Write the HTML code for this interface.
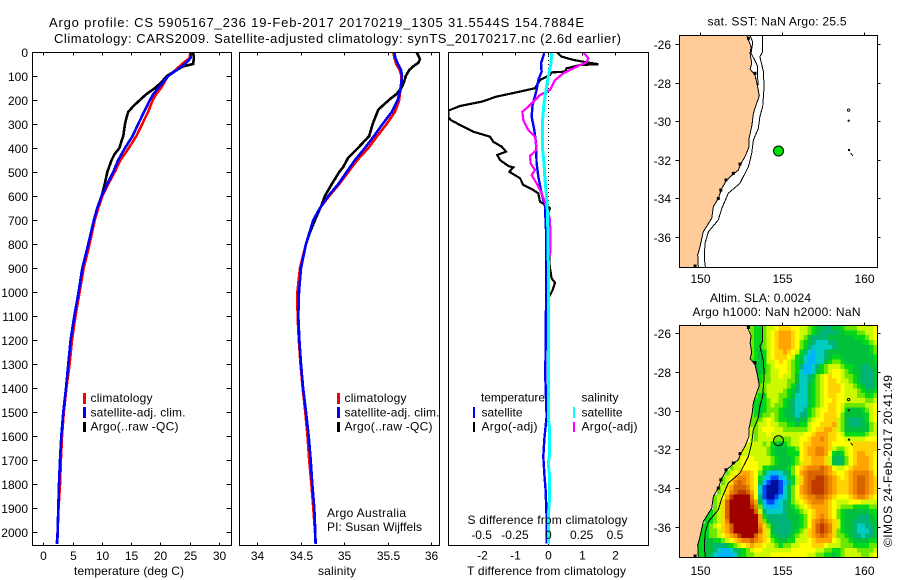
<!DOCTYPE html>
<html>
<head>
<meta charset="utf-8">
<title>Argo profile</title>
<style>
html,body{margin:0;padding:0;background:#fff;}
svg{display:block;}
text{font-family:"Liberation Sans",sans-serif;font-size:12px;fill:#000;}
.t13{font-size:13px;}
</style>
</head>
<body>
<svg id="chart" xmlns="http://www.w3.org/2000/svg" width="900" height="580" viewBox="0 0 900 580">
<defs>
<clipPath id="clip-p1"><rect x="32.5" y="52" width="199" height="494"/></clipPath>
<clipPath id="clip-p2"><rect x="239.5" y="52" width="200" height="494"/></clipPath>
<clipPath id="clip-p3"><rect x="448.5" y="52" width="200" height="494"/></clipPath>
<clipPath id="clip-m1"><rect x="679.5" y="35.5" width="198" height="232"/></clipPath>
<clipPath id="clip-m2"><rect x="679.5" y="325.5" width="198" height="232"/></clipPath>
</defs>
<text class="t13" x="49" y="27" textLength="535" lengthAdjust="spacing">Argo profile: CS 5905167_236 19-Feb-2017 20170219_1305 31.5544S 154.7884E</text>
<text class="t13" x="54" y="43" textLength="567" lengthAdjust="spacing">Climatology: CARS2009. Satellite-adjusted climatology: synTS_20170217.nc (2.6d earlier)</text>
<g id="p1" clip-path="url(#clip-p1)"></g>
<g id="p2" clip-path="url(#clip-p2)"></g>
<g id="p3" clip-path="url(#clip-p3)"></g>
<g id="m1" clip-path="url(#clip-m1)"></g>
<g id="m2" clip-path="url(#clip-m2)"></g>
<g id="axes"></g>

<g>
<rect x="83" y="393" width="3" height="11" fill="#f00"/>
<rect x="83" y="407" width="3" height="11" fill="#00f"/>
<rect x="83" y="422" width="3" height="10" fill="#000"/>
<text x="90.5" y="402" textLength="62">climatology</text>
<text x="90.5" y="416.5" textLength="95">satellite-adj. clim.</text>
<text x="90.5" y="430.5" textLength="88">Argo(..raw -QC)</text>
</g>
<g>
<rect x="337" y="393" width="3" height="11" fill="#f00"/>
<rect x="337" y="407" width="3" height="11" fill="#00f"/>
<rect x="337" y="422" width="3" height="10" fill="#000"/>
<text x="344.5" y="402" textLength="62">climatology</text>
<text x="344.5" y="416.5" textLength="95">satellite-adj. clim.</text>
<text x="344.5" y="430.5" textLength="88">Argo(..raw -QC)</text>
<text x="327" y="517" textLength="79">Argo Australia</text>
<text x="327" y="531" textLength="95">PI: Susan Wijffels</text>
</g>
<g>
<text x="481" y="401.5" textLength="64">temperature</text>
<text x="481.5" y="416.5" textLength="41">satellite</text>
<text x="481.5" y="430.5" textLength="56">Argo(-adj)</text>
<text x="581.5" y="401.5" textLength="37">salinity</text>
<text x="581.5" y="416.5" textLength="41">satellite</text>
<text x="581.5" y="430.5" textLength="56">Argo(-adj)</text>
<rect x="473" y="407" width="2" height="11" fill="#00f"/>
<rect x="473" y="422" width="2" height="10" fill="#000"/>
<rect x="573" y="407" width="2" height="11" fill="#0ff"/>
<rect x="573" y="422" width="2" height="10" fill="#f0f"/>
</g>

<text x="74" y="575" textLength="110">temperature (deg C)</text>
<text x="318" y="575" textLength="38">salinity</text>
<text x="467" y="575" textLength="159">T difference from climatology</text>
<text x="467.5" y="524" textLength="160">S difference from climatology</text>
<text x="707.5" y="25.5" textLength="139">sat. SST: NaN Argo: 25.5</text>
<text x="710" y="302" textLength="101">Altim. SLA: 0.0024</text>
<text x="692.5" y="316" textLength="168">Argo h1000: NaN h2000: NaN</text>
<text transform="translate(892 547) rotate(-90)" textLength="172">©IMOS 24-Feb-2017 20:41:49</text>
</svg>

<script>
// ---- profile data ----
const depths = [0,25,50,75,100,125,150,175,200,250,300,350,400,450,500,550,600,650,700,800,900,1000,1100,1200,1300,1400,1500,1600,1700,1800,1900,2000,2050];
const tempClim = [25.1,25,23.7,22.6,21.3,20.7,20.1,19.3,18.7,17.9,16.9,15.9,14.6,13.2,12.2,11.1,10.1,9.4,8.8,7.9,6.9,6.2,5.5,4.9,4.5,3.95,3.5,3.2,3.0,2.85,2.6,2.45,2.3];
const tempSat = [25.16,25.16,24.2,22.8,21.35,20.5,19.64,18.8,18.2,17.2,16.2,15.26,13.95,12.8,11.96,10.93,9.96,9.2,8.65,7.69,6.66,6.03,5.3,4.67,4.27,3.87,3.42,3.07,2.85,2.68,2.56,2.45,2.39];
const tempArgoDepth = [0,25,50,60,75,100,125,150,175,200,225,250,275,300,350,375,400,425,450,500,550,600,650,700,800,900,1000];
const tempArgo = [25.6,25.7,25.6,23.9,22.8,21.1,20.2,19.1,17.65,16.5,15.4,14.5,14.2,13.95,13.66,13.3,13,12.2,11.67,10.93,10.5,9.96,9.2,8.65,7.69,6.66,6.03];
const salClim = [35.567,35.58,35.6,35.64,35.66,35.66,35.655,35.64,35.636,35.585,35.49,35.383,35.28,35.153,35.05,34.946,34.83,34.724,34.647,34.563,34.494,34.464,34.467,34.48,34.5,34.525,34.555,34.58,34.6,34.625,34.647,34.667,34.674];
const salSat = [35.58,35.59,35.62,35.655,35.667,35.66,35.65,35.636,35.617,35.548,35.444,35.345,35.24,35.126,35.03,34.935,34.82,34.724,34.647,34.563,34.506,34.483,34.475,34.487,34.506,34.53,34.563,34.594,34.617,34.636,34.659,34.67,34.674];
const salArgoDepth = [0,15,30,45,60,75,100,125,150,175,190,215,240,275,300,350,385,420,440,480,500,550,600,640,700,750,800,900,1000];
const salArgo = [35.835,35.854,35.874,35.854,35.797,35.75,35.71,35.69,35.66,35.605,35.55,35.47,35.395,35.356,35.33,35.29,35.2,35.107,35.05,34.99,34.946,34.86,34.78,34.74,34.667,34.61,34.563,34.506,34.483];
const diffTSatDepth = [5,47,82,117,158,221,269,325,380,464,519,589,644,742,881,1061,1352,1519,1561,1616,1686,1755,1825,1936,2047];
const diffTSat = [-.12,-.22,-.2,-.3,-.35,-.47,-.5,-.42,-.37,-.35,-.3,-.2,-.1,-.07,-.07,-.07,-.09,-.05,-.08,-.12,-.15,-.12,-.08,-.05,-.05];
const diffSSatDepth = [5,47,103,158,214,283,394,464,533,603,686,881,1061,1519,1561,1686,1714,1769,1853,1936,2047];
const diffSSat = [.025,.02,0,-.0175,-.0325,-.0425,-.045,-.0325,-.025,-.0125,-.005,0,0,0,.0075,.0075,0,.01,.01,0,0];
const diffTArgoDepth = [0,19,33,43,51,54,68,82,85,96,117,151,165,186,207,225,244,269,283,304,332,353,374,394,415,429,450,475,481,499,526,554,575,589,624,638,651,686,742,797,881,943,961,992,1019];
const diffTArgo = [.25,.4,.75,1.15,1.5,.95,.55,.5,.1,.05,-.25,-.4,-.85,-1.55,-2,-2.65,-3,-3,-2.93,-2.65,-2.25,-1.75,-1.65,-1.4,-1.27,-1.53,-1.45,-1.2,-1.05,-1.17,-.85,-.75,-.45,-.3,-.25,-.07,.05,-.05,0,.05,.03,.1,.2,.13,.03];
const diffSArgoDepth = [0,26,43,61,89,117,158,179,228,249,283,325,353,408,433,464,492,513,547,589,638,700,797,853];
const diffSArgo = [.2625,.3,.2875,.2125,.1125,.05,.0125,-.0625,-.15,-.195,-.1875,-.15,-.1,-.0875,-.1375,-.1325,-.1,-.125,-.0875,-.05,-.0175,.0125,.0175,.0125];

// ---- tick labels ----
const depthTicks = [0,100,200,300,400,500,600,700,800,900,1000,1100,1200,1300,1400,1500,1600,1700,1800,1900,2000];
const tempTicks = [0,5,10,15,20,25,30];
const salTicks = [34,34.5,35,35.5,36];
const diffTTicks = [-2,-1,0,1,2];
const diffSTicks = [-0.5,-0.25,0,0.25,0.5];
const lonTicks = [150,155,160];
const latTicks = [-26,-28,-30,-32,-34,-36];

// ---- map data (lon / lat) ----
const coastLon = [152.85,153.0,153.12,153.06,153.16,153.06,153.36,153.5,153.62,153.42,153.26,153.18,153.0,153.0,152.75,152.49,152.35,151.94,151.64,151.34,151.13,150.83,150.73,150.22,150.02,149.88,149.92];
const coastLat = [-25.55,-25.88,-26.14,-26.48,-27.0,-27.31,-27.61,-28.13,-28.7,-29.17,-29.6,-30.2,-30.9,-31.33,-31.85,-32.23,-32.54,-32.83,-33.06,-33.49,-34.01,-34.44,-35.05,-35.74,-36.52,-36.95,-37.65];
const reefLon = [152.96,153.36,152.45,152.04,151.6,151.28,151.13,149.72];
const reefLat = [-25.7,-27.52,-32.23,-32.71,-33.06,-33.58,-34.01,-37.52];
const innerLon = [153.06,153.22,153.12,153.42,153.52,153.5,153.56];
const innerLat = [-25.55,-25.91,-26.48,-26.97,-27.18,-27.61,-28.13];
const outerLon = [153.83,153.83,153.66,153.87,153.91,153.83,153.66,153.56,153.26,153.16,153.06,152.96,152.45,151.74,151.34,151.13,150.53,150.32,150.28,150.36];
const outerLat = [-25.55,-26.4,-26.66,-27.44,-28.21,-29.25,-29.77,-30.38,-30.98,-31.67,-32.02,-32.37,-33.23,-33.75,-34.53,-35.13,-35.74,-36.35,-37.12,-37.65];
const islandLon = [159.05,159.07];
const islandLat = [-29.98,-31.5];
const argoLon = 154.7884;
const argoLat = -31.5544;

// ---- SLA heatmap: one character per quarter-degree cell ('.' = no data) ----
const slaColors = {'0':'#00109c','1':'#0048f8','2':'#00b4ff','3':'#00cdc0','4':'#00b478','5':'#00c03c','6':'#00d81a','7':'#6ce800','8':'#ccf800','9':'#ffff00','a':'#ffd400','b':'#ffa400','c':'#ec8400','d':'#d86400','e':'#c03a00','f':'#a00000'};
const slaRows = [
".................7667"+"889aaa9988"+"7655445567"+"7788889",
".................7667"+"89abbba988"+"7654444556"+"6677889",
".................7667"+"89abbba987"+"5444455555"+"5666789",
".................7667"+"89abbba976"+"5433344555"+"5556678",
".................7667"+"89abbba976"+"4333334555"+"5555567",
".................7656"+"89aaba9864"+"3233455555"+"5555567",
".................7656"+"89aaa98653"+"2233456655"+"5555556",
".................6656"+"889a987653"+"2233567765"+"5555556",
".................6556"+"7899987642"+"2346788876"+"6554455",
".................6556"+"7889987632"+"2356789987"+"6554445",
".................7667"+"7889887533"+"45789a9987"+"7654445",
".................7667"+"7888877533"+"46789aa988"+"7654445",
".................7777"+"8888876433"+"56789aaa98"+"8765445",
".................8777"+"8888765433"+"56789aaa98"+"8876556",
".................8766"+"8887765333"+"56789aa998"+"8877667",
".................7666"+"7887654333"+"567899a998"+"8888778",
".................7656"+"7877654333"+"56789aa987"+"7777889",
".................7656"+"7776554334"+"67899aa986"+"5556789",
".................7667"+"7876554344"+"6789aaa975"+"5555689",
".................7778"+"9876655455"+"7899aaa875"+"4445689",
".................7788"+"9887766566"+"899aaab875"+"4445578",
".................8789"+"9988777777"+"89aabba875"+"5555578",
".................8788"+"9888888889"+"9abbbaa986"+"6666788",
".................8788"+"8877778899"+"abbcbaa998"+"8888999",
"................8"+"8887"+"866567889a"+"abbbba9999"+"9aaaaaa",
"...............88"+"8888"+"765556679a"+"bbccba8778"+"9aaaaaa",
"...............88"+"8888"+"765556669a"+"bbccb96568"+"9abbaa9",
"..............899"+"9888"+"876555679a"+"abbba85457"+"9abbba9",
".............8899"+"9988"+"876555678a"+"abbba85457"+"9abbba9",
"............78899"+"9986"+"65555679ab"+"cccdcb9889"+"abbbba9",
"...........789abb"+"a975"+"32234579bc"+"ddddcba99a"+"bccccb9",
"..........789bccb"+"a963"+"21123568ac"+"ddeedcba9a"+"bcddcba",
"..........78acdcb"+"a952"+"10012468ac"+"deeedcbaaa"+"bcddcba",
".........78abdddc"+"a931"+"00013579bc"+"deeedcbaaa"+"bcddcba",
".........78acdeed"+"b931"+"00013579bc"+"deeedcbaaa"+"bcddcba",
"........789beffff"+"c941"+"00123579ab"+"ccddcba999"+"abccba9",
"........78adfffff"+"db52"+"112345789a"+"bcccba9888"+"9998888",
"........78adfffff"+"ec73"+"2223456789"+"abbbba9877"+"7666677",
".......678adfffff"+"fd84"+"3333455678"+"9abbba9765"+"5555566",
"......6678adfffff"+"ffb6"+"4444455567"+"9abcba9765"+"5544456",
"......6678acfffff"+"ffb7"+"5444445567"+"9bcdcba865"+"5444455",
".....66789abdffff"+"ffca"+"7544445567"+"9bdedca865"+"5433445",
".....66778abdffff"+"ffda"+"8544445678"+"abdedca765"+"5433345",
"....6667789abceff"+"fdba"+"8654456788"+"abcdcba776"+"5443445",
"....665566789abcc"+"dcba"+"9765566888"+"9abbbb9877"+"6555566",
"....665544456789a"+"baa9"+"8876778899"+"9aaa988877"+"7666677",
"....6655432234567"+"8998"+"8888889999"+"9988776678"+"8877778",
"....6654322223567"+"7888"+"8999999999"+"8877665678"+"8887789"
];

// ---- axis functions ----
const NS = 'http://www.w3.org/2000/svg';
const yDepth = d => 52 + 0.24 * d;
const xTemp = v => 43.3 + 5.855 * v;
const xSal = v => 344 + 87 * (v - 35);
const xDiffT = v => 548.3 + 33.33 * v;
const xDiffS = v => 548.3 + 133.3 * v;
const xLon = v => 699.7 + 16.46 * (v - 150);
const yLat1 = v => 44 + 19.27 * (-26 - v);
const yLat2 = v => 333.3 + 19.33 * (-26 - v);

function node(tag, parent, attrs) {
  const el = document.createElementNS(NS, tag);
  for (const k in attrs) el.setAttribute(k, attrs[k]);
  parent.appendChild(el);
  return el;
}
function series(parent, name, xs, ys, fx, fy, color, width) {
  const pts = xs.map((v, i) => fx(v).toFixed(1) + ',' + fy(ys[i]).toFixed(1)).join(' ');
  const el = node('polyline', parent, {points: pts, fill: 'none', stroke: color, 'stroke-width': width, 'shape-rendering': 'crispEdges'});
  
  
  return el;
}
function tick(x1, y1, x2, y2) {
  const el = node('line', axes, {x1, y1, x2, y2, stroke: '#000', 'stroke-width': 1, 'shape-rendering': 'crispEdges'});
  
  
}
function label(x, y, str, anchor) {
  const el = node('text', axes, {x, y, 'text-anchor': anchor});
  el.textContent = str;
  
  
}
function box(x, y, w, h) {
  const el = node('rect', axes, {x, y, width: w, height: h, fill: 'none', stroke: '#000', 'stroke-width': 1, 'shape-rendering': 'crispEdges'});
  
  
}

const axes = document.getElementById('axes');
const p1 = document.getElementById('p1');
const p2 = document.getElementById('p2');
const p3 = document.getElementById('p3');
const m1 = document.getElementById('m1');
const m2 = document.getElementById('m2');

// ---- profile panels ----
series(p1, 'temperature-climatology-line', tempClim, depths, xTemp, yDepth, '#f00', 2.6);
series(p1, 'temperature-argo-line', tempArgo, tempArgoDepth, xTemp, yDepth, '#000', 2.6);
series(p1, 'temperature-satellite-line', tempSat, depths, xTemp, yDepth, '#00f', 2.6);

series(p2, 'salinity-climatology-line', salClim, depths, xSal, yDepth, '#f00', 2.6);
series(p2, 'salinity-argo-line', salArgo, salArgoDepth, xSal, yDepth, '#000', 2.6);
series(p2, 'salinity-satellite-line', salSat, depths, xSal, yDepth, '#00f', 2.6);

const zeroLine = node('line', p3, {x1: 548.5, y1: 52, x2: 548.5, y2: 546, stroke: '#000', 'stroke-width': 1, 'stroke-dasharray': '1 3'});


series(p3, 'difference-t-argo-line', diffTArgo, diffTArgoDepth, xDiffT, yDepth, '#000', 2.2);
series(p3, 'difference-t-satellite-line', diffTSat, diffTSatDepth, xDiffT, yDepth, '#00f', 2.4);
series(p3, 'difference-s-argo-line', diffSArgo, diffSArgoDepth, xDiffS, yDepth, '#f0f', 2.2);
series(p3, 'difference-s-satellite-line', diffSSat, diffSSatDepth, xDiffS, yDepth, '#0ff', 3);

// ---- maps ----
function drawHeat(parent) {
  slaRows.forEach((row, r) => {
    [...row].forEach((ch, c) => {
      if (!slaColors[ch]) return;
      const lon = 148.8 + c * 0.25;
      const lat = -25.6 - r * 0.25;
      const cell = node('rect', parent, {x: xLon(lon).toFixed(2), y: yLat2(lat).toFixed(2), width: 4.6, height: 5.3, fill: slaColors[ch], 'shape-rendering': 'crispEdges'});
      
      
    });
  });
}
function drawLand(parent, fy) {
  const pts = coastLon.map((v, i) => xLon(v).toFixed(1) + ',' + fy(coastLat[i]).toFixed(1));
  pts.push(xLon(148) + ',' + fy(-37.65).toFixed(1));
  pts.push(xLon(148) + ',' + fy(-25.55).toFixed(1));
  const land = node('polygon', parent, {points: pts.join(' '), fill: '#ffcc99', stroke: 'none'});
  
  
  series(parent, 'coastline', coastLon, coastLat, xLon, fy, '#000', 1);
  reefLon.forEach((v, i) => {
    const reef = node('rect', parent, {x: (xLon(v) - 1.5).toFixed(1), y: (fy(reefLat[i]) - 1.5).toFixed(1), width: 3, height: 3, fill: '#000'});
    
    
  });
}
function drawIslands(parent, fy) {
  const ring = node('circle', parent, {cx: xLon(159.05), cy: fy(-29.43), r: 1.2, fill: 'none', stroke: '#000', 'stroke-width': 0.9});
  
  
  islandLon.forEach((v, i) => {
    const dot = node('rect', parent, {x: xLon(v) - 1, y: fy(islandLat[i]) - 1, width: 2, height: 2, fill: '#000'});
    
    
  });
  const rock = node('line', parent, {x1: xLon(159.17), y1: fy(-31.66), x2: xLon(159.3), y2: fy(-31.8), stroke: '#000', 'stroke-width': 1});
  
  
}

drawLand(m1, yLat1);
series(m1, 'inner-depth-contour', innerLon, innerLat, xLon, yLat1, '#000', 1);
series(m1, 'outer-depth-contour', outerLon, outerLat, xLon, yLat1, '#000', 1);
drawIslands(m1, yLat1);
const argoDot = node('circle', m1, {cx: xLon(argoLon), cy: yLat1(argoLat), r: 5, fill: '#00e000', stroke: '#000', 'stroke-width': 1});



drawHeat(m2);
drawLand(m2, yLat2);
series(m2, 'outer-depth-contour', outerLon, outerLat, xLon, yLat2, '#000', 1);
drawIslands(m2, yLat2);
const argoRing = node('circle', m2, {cx: xLon(argoLon), cy: yLat2(argoLat), r: 5, fill: 'none', stroke: '#000', 'stroke-width': 1});



// ---- axes ----
box(32.5, 52.5, 199, 493);
box(239.5, 52.5, 200, 493);
box(448.5, 52.5, 200, 493);
box(679.5, 35.5, 198, 232);
box(679.5, 325.5, 198, 232);

depthTicks.forEach(d => {
  const y = Math.round(yDepth(d)) + 0.5;
  tick(32.5, y, 37.5, y);
  tick(226.5, y, 231.5, y);
  label(28, y + 4.5, String(d), 'end');
});
tempTicks.forEach(v => {
  const x = Math.round(xTemp(v)) + 0.5;
  tick(x, 52.5, x, 55.5);
  tick(x, 542.5, x, 545.5);
  label(x, 560, String(v), 'middle');
});
salTicks.forEach(v => {
  const x = Math.round(xSal(v)) + 0.5;
  tick(x, 52.5, x, 55.5);
  tick(x, 542.5, x, 545.5);
  label(x, 560, String(v), 'middle');
});
diffTTicks.forEach(v => {
  const x = Math.round(xDiffT(v)) + 0.5;
  tick(x, 52.5, x, 55.5);
  label(x, 559.5, String(v), 'middle');
});
diffSTicks.forEach(v => {
  const x = xDiffS(v);
  label(x, 539, String(v), 'middle');
});
lonTicks.forEach(v => {
  const x = Math.round(xLon(v)) + 0.5;
  tick(x, 32.5, x, 35.5);
  tick(x, 322.5, x, 325.5);
  label(x, 283, String(v), 'middle');
  label(x, 575, String(v), 'middle');
});
latTicks.forEach(v => {
  const y1 = Math.round(yLat1(v)) + 0.5;
  const y2 = Math.round(yLat2(v)) + 0.5;
  tick(675.5, y1, 679.5, y1);
  tick(877.5, y1, 880.5, y1);
  tick(675.5, y2, 679.5, y2);
  tick(877.5, y2, 880.5, y2);
  label(671, y1 + 4.5, String(v), 'end');
  label(671, y2 + 4.5, String(v), 'end');
});
</script>
</body>
</html>
